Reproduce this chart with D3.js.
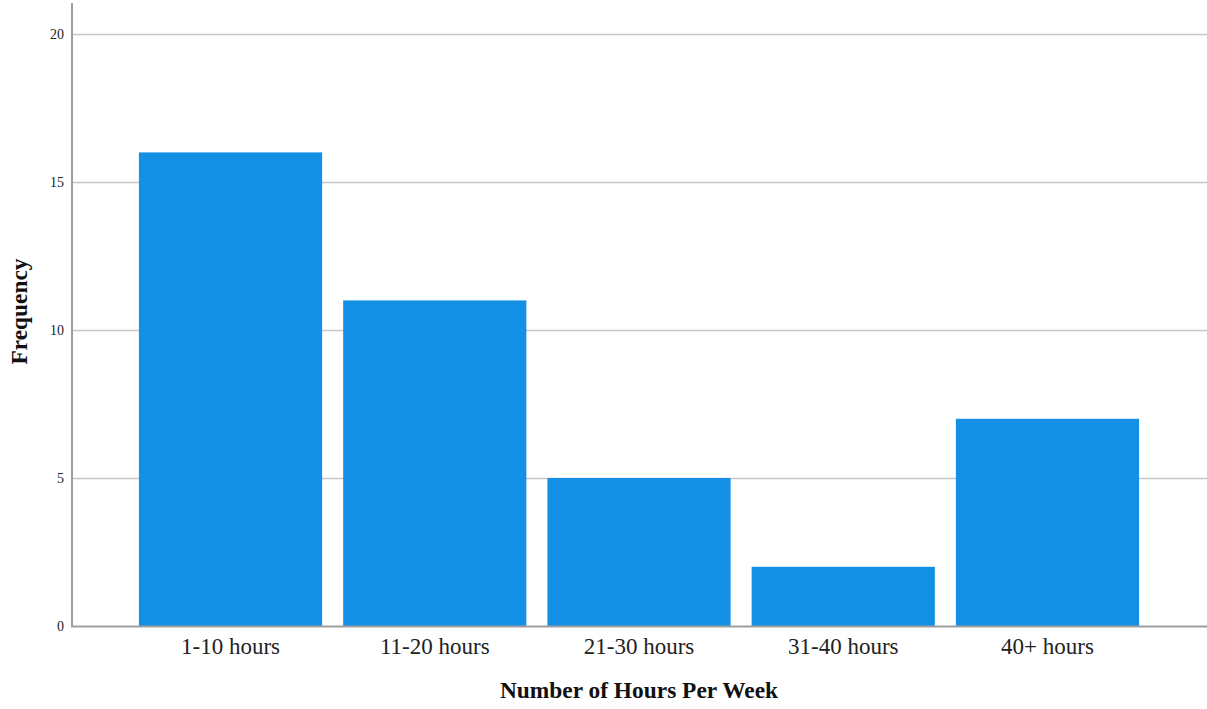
<!DOCTYPE html>
<html><head><meta charset="utf-8">
<script src="https://cdn.jsdelivr.net/npm/d3@7"></script>
<style>body{margin:0;background:#fff}svg{display:block}</style>
</head><body>
<script>
const categories = ["1-10 hours","11-20 hours","21-30 hours","31-40 hours","40+ hours"];
const frequencies = [16, 11, 5, 2, 7];
const yTicks = [0, 5, 10, 15, 20];
const xTitle = "Number of Hours Per Week";
const yTitle = "Frequency";

(function(){
const W = 1207, H = 709;
const svg = d3.select("body").append("svg").attr("width", W).attr("height", H);
const mLeft = 72, mRight = 1207, mTop = 3, mBottom = 626;
const serif = "Liberation Serif, Times New Roman, serif";

const y = d3.scaleLinear().domain([0, 20]).range([mBottom, 34]);
const x = d3.scaleBand().domain(categories).range([128.4, 1149.6]).paddingInner(0.103).paddingOuter(0.0515);

// gridlines
svg.append("g").selectAll("line").data(yTicks.filter(d => d > 0)).join("line")
  .attr("x1", mLeft).attr("x2", mRight)
  .attr("y1", d => Math.round(y(d)) + 0.5).attr("y2", d => Math.round(y(d)) + 0.5)
  .attr("stroke", "#c6c6c6").attr("stroke-width", 1.5);

// bars
svg.append("g").selectAll("rect").data(frequencies).join("rect")
  .attr("x", (d, i) => x(categories[i]))
  .attr("width", x.bandwidth())
  .attr("y", d => y(d))
  .attr("height", d => y(0) - y(d))
  .attr("fill", "#1390e6");

// y axis
const yAxis = d3.axisLeft(y).tickValues(yTicks).tickSize(0).tickPadding(8);
const gy = svg.append("g").attr("transform", `translate(${mLeft},0)`).call(yAxis);
gy.select(".domain").remove();
gy.selectAll("text").attr("font-family", serif).attr("font-size", 14).attr("fill", "#222");
svg.append("line").attr("x1", mLeft).attr("x2", mLeft).attr("y1", mTop).attr("y2", mBottom + 1)
  .attr("stroke", "#9e9e9e").attr("stroke-width", 2);

// x axis
const xAxis = d3.axisBottom(x).tickSize(0).tickPadding(0);
const gx = svg.append("g").attr("transform", `translate(0,${mBottom})`).call(xAxis);
gx.select(".domain").remove();
gx.selectAll("text").attr("dy", null).attr("y", 28).attr("font-family", serif).attr("font-size", 23).attr("fill", "#222");
svg.append("line").attr("x1", mLeft - 1).attr("x2", mRight).attr("y1", mBottom + 0.5).attr("y2", mBottom + 0.5)
  .attr("stroke", "#9e9e9e").attr("stroke-width", 2);

// titles
svg.append("text").attr("x", 639).attr("y", 698).attr("text-anchor", "middle")
  .attr("font-family", serif).attr("font-weight", "bold").attr("font-size", 23.4).attr("fill", "#111")
  .text(xTitle);
svg.append("text").attr("transform", "translate(27,311.5) rotate(-90)").attr("text-anchor", "middle")
  .attr("font-family", serif).attr("font-weight", "bold").attr("font-size", 23.4).attr("fill", "#111")
  .text(yTitle);
})();
</script>
</body></html>
